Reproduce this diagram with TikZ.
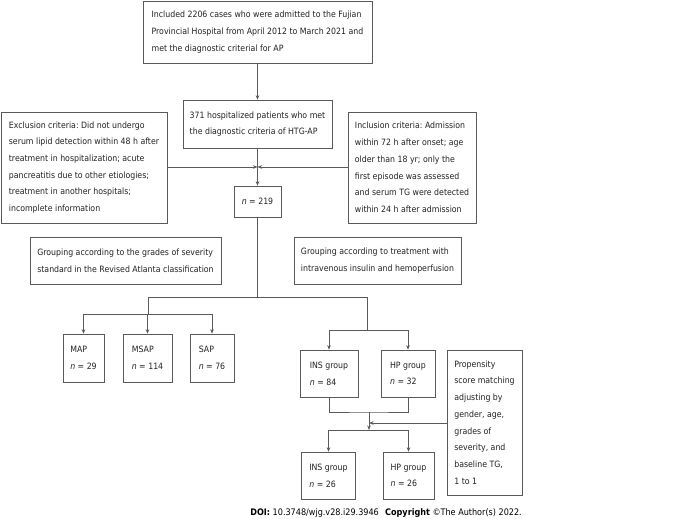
\documentclass[tikz,border=0pt]{standalone}
\usepackage{fontspec}
\setmainfont{DejaVu Sans Condensed}
\usetikzlibrary{arrows.meta}
\definecolor{frame}{HTML}{5A5A5A}
\definecolor{ink}{HTML}{222222}
\tikzset{
  box/.style={draw=frame, line width=0.6pt, text=ink, align=left, inner xsep=4pt, inner ysep=0pt},
  link/.style={draw=frame, line width=0.6pt},
  arr/.style={link, -{Stealth[length=4.5pt, width=3.5pt]}}
}
\frenchspacing

\begin{document}
\begin{tikzpicture}[x=1pt, y=-1pt, font=\fontsize{8.7}{16.7}\selectfont]
  \useasboundingbox (0,0) rectangle (678,519);

  % screening
  \node[box, minimum width=229pt, minimum height=62pt] (src) at (257.5,32)
    {Included 2206 cases who were admitted to the Fujian\\Provincial Hospital from April 2012 to March 2021 and\\met the diagnostic criterial for AP};
  \node[box, minimum width=149pt, minimum height=48pt] (htg) at (257.5,124)
    {371 hospitalized patients who met\\the diagnostic criteria of HTG-AP};
  \node[box, minimum width=166pt, minimum height=111pt] (excl) at (84,167.5)
    {Exclusion criteria: Did not undergo\\serum lipid detection within 48 h after\\treatment in hospitalization; acute\\pancreatitis due to other etiologies;\\treatment in another hospitals;\\incomplete information};
  \node[box, minimum width=128pt, minimum height=111pt] (incl) at (412,167.5)
    {Inclusion criteria: Admission\\within 72 h after onset; age\\older than 18 yr; only the\\first episode was assessed\\and serum TG were detected\\within 24 h after admission};
  \node[box, minimum width=47pt, minimum height=31pt] (n219) at (257.5,201.5)
    {{\itshape n} = 219};

  % grouping
  \node[box, minimum width=191pt, minimum height=47pt] (grpsev) at (125.5,260.5)
    {Grouping according to the grades of severity\\standard in the Revised Atlanta classification};
  \node[box, minimum width=167pt, minimum height=47pt] (grptrt) at (377.5,260.5)
    {Grouping according to treatment with\\intravenous insulin and hemoperfusion};

  \node[box, minimum width=41pt, minimum height=48pt] (map) at (83.5,358)
    {MAP\\{\itshape n} = 29};
  \node[box, minimum width=49pt, minimum height=48pt] (msap) at (147.5,358)
    {MSAP\\{\itshape n} = 114};
  \node[box, minimum width=44pt, minimum height=48pt] (sap) at (212,358)
    {SAP\\{\itshape n} = 76};

  \node[box, minimum width=58pt, minimum height=47pt] (ins1) at (329,373.5)
    {INS group\\{\itshape n} = 84};
  \node[box, minimum width=54pt, minimum height=47pt] (hp1) at (408,373.5)
    {HP group\\{\itshape n} = 32};
  \node[box, minimum width=54pt, minimum height=47pt] (ins2) at (328.5,475.5)
    {INS group\\{\itshape n} = 26};
  \node[box, minimum width=51pt, minimum height=47pt] (hp2) at (408.5,475.5)
    {HP group\\{\itshape n} = 26};
  \node[box, minimum width=75pt, minimum height=145pt] (psm) at (484.5,422.5)
    {Propensity\\score matching\\adjusting by\\gender, age,\\grades of\\severity, and\\baseline TG,\\1 to 1};

  % connectors
  \coordinate (join) at (257.5,167);
  \draw[arr] (src) -- (htg);
  \draw[arr] (htg) -- (n219);
  \draw[arr] (excl.east |- join) -- (join);
  \draw[arr] (incl.west |- join) -- (join);

  \coordinate (split) at (257.5,297);
  \coordinate (sevtop) at (148,297);
  \coordinate (trttop) at (367,297);
  \draw[link] (n219) -- (split);
  \draw[link] (sevtop) -- (trttop);

  \coordinate (sevbar) at (148,314);
  \draw[link] (sevtop) -- (sevbar);
  \draw[link] (map.north |- sevbar) -- (sap.north |- sevbar);
  \foreach \g in {map,msap,sap}
    \draw[arr] (\g.north |- sevbar) -- (\g.north);

  \coordinate (trtbar) at (367,330);
  \draw[link] (trttop) -- (trtbar);
  \draw[link] (ins1.north |- trtbar) -- (hp1.north |- trtbar);
  \foreach \g in {ins1,hp1}
    \draw[arr] (\g.north |- trtbar) -- (\g.north);

  \coordinate (merge) at (369,412);
  \coordinate (psmin) at (369,423);
  \coordinate (psmbar) at (369,430);
  \draw[link] (ins1.south) |- (merge) -| (hp1.south);
  \draw[arr] (merge) -- (psmbar);
  \draw[arr] (psm.west |- psmin) -- (psmin);
  \draw[link] (ins1.south |- psmbar) -- (hp1.south |- psmbar);
  \foreach \g in {ins2,hp2}
    \draw[arr] (\g.north |- psmbar) -- (\g.north);

  \node[anchor=base east, inner sep=0pt, font=\fontsize{9}{11}\selectfont] (doi) at (522,515)
    {\textbf{DOI:} 10.3748/wjg.v28.i29.3946\hspace{0.7em}\textbf{Copyright} \textcopyright The Author(s) 2022.};
\end{tikzpicture}
\end{document}
